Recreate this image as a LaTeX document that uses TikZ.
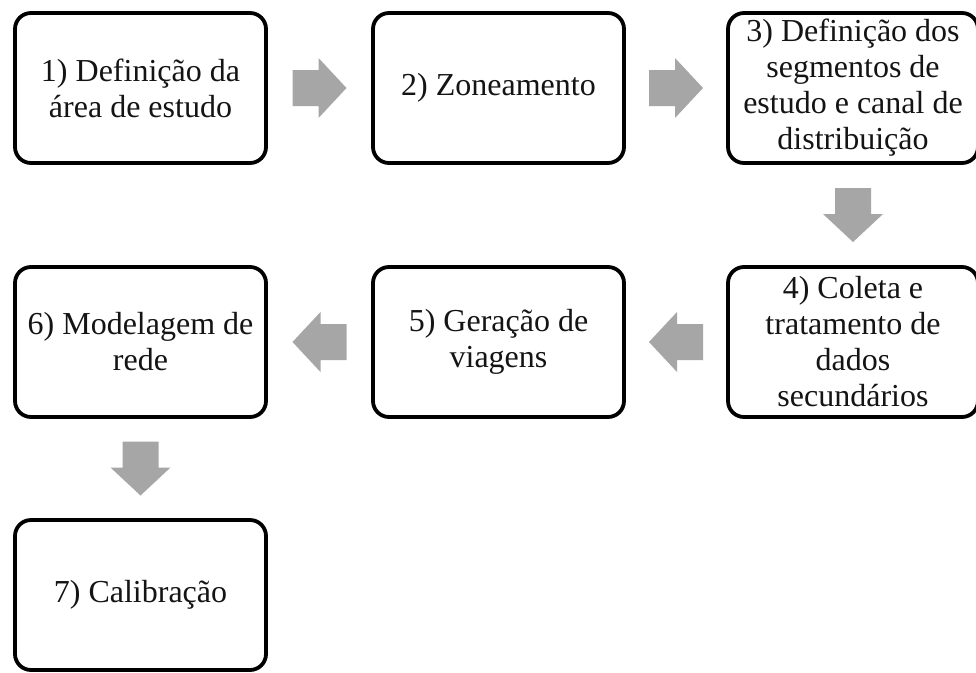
\documentclass[tikz,border=0pt]{standalone}
\usepackage{fontspec}
\setmainfont{Liberation Serif}
\usetikzlibrary{calc}
\definecolor{arrowgray}{RGB}{166,166,166}
\definecolor{boxtext}{RGB}{20,20,20}
\begin{document}
\begin{tikzpicture}[x=1pt,y=-1pt,
  stepbox/.style={draw=black, line width=3.8pt, rounded corners=16pt,
    minimum width=251pt, minimum height=150pt, align=center,
    font=\fontsize{32}{36}\selectfont, text=boxtext, inner sep=0pt},
  blockarrow/.pic={\fill[arrowgray] (-27,-18) -- (-1,-18) -- (-1,-30) -- (27,0)
    -- (-1,30) -- (-1,18) -- (-27,18) -- cycle;}]
\useasboundingbox (0,0) rectangle (976,672);
\fill[white] (0,0) rectangle (976,672);

\node[stepbox] (b1) at (140.5,88) {1) Definição da\\área de estudo};
\node[stepbox] (b2) at (498.5,88) {2) Zoneamento};
\node[stepbox, minimum width=250pt] (b3) at (853,88) {3) Definição dos\\segmentos de\\estudo e canal de\\distribuição};
\node[stepbox, minimum width=250pt] (b4) at (853,342) {4) Coleta e\\tratamento de\\dados\\secundários};
\node[stepbox] (b5) at (498.5,342) {5) Geração de\\viagens};
\node[stepbox] (b6) at (140.5,342) {6) Modelagem de\\rede};
\node[stepbox] (b7) at (140.5,595) {7) Calibração};

\coordinate (a12) at ($(b1.east)!0.5!(b2.west)$);
\coordinate (a23) at ($(b2.east)!0.5!(b3.west)$);
\coordinate (a34) at ($(b3.south)!0.5!(b4.north)$);
\coordinate (a45) at ($(b4.west)!0.5!(b5.east)$);
\coordinate (a56) at ($(b5.west)!0.5!(b6.east)$);
\coordinate (a67) at ($(b6.south)!0.5!(b7.north)$);

\pic at (a12) {blockarrow};
\pic at (a23) {blockarrow};
\pic[rotate=-90] at (a34) {blockarrow};
\pic[rotate=180] at (a45) {blockarrow};
\pic[rotate=180] at (a56) {blockarrow};
\pic[rotate=-90] at (a67) {blockarrow};
\end{tikzpicture}
\end{document}
